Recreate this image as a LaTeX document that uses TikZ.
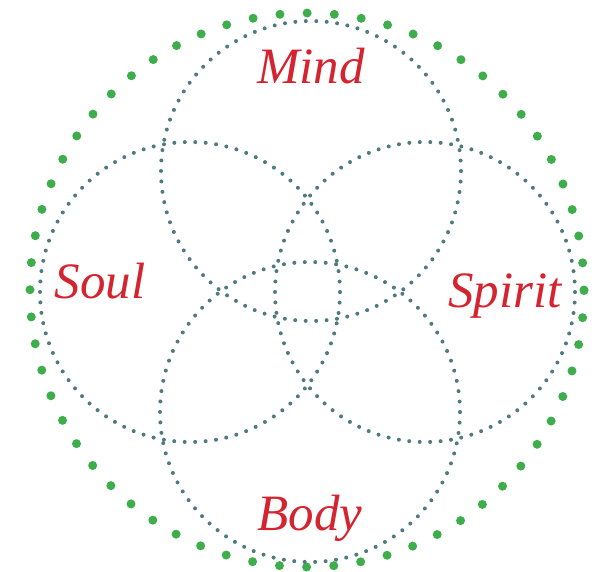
\documentclass[tikz,border=0pt]{standalone}
\usepackage{fontspec}
\setmainfont{Liberation Serif}
\definecolor{lblred}{HTML}{D42430}
\definecolor{ringteal}{HTML}{4F7A80}
\definecolor{ringgreen}{HTML}{3DAE4B}
\tikzset{
  ring/.style={circle, draw=ringteal, line width=4pt, line cap=round,
    dash pattern=on 0pt off 10.472pt, minimum size=300pt, inner sep=0pt},
  outerring/.style={circle, draw=ringgreen, line width=9pt, line cap=round,
    dash pattern=on 0pt off 27.19pt, minimum size=554pt, inner sep=0pt},
  lbl/.style={text=lblred, font=\fontsize{51}{60}\selectfont\itshape, anchor=base, inner sep=0pt}
}
\begin{document}
\begin{tikzpicture}[x=1pt,y=-1pt]
\useasboundingbox (0,0) rectangle (600,571);
\node[outerring] (outer) at (307,290) {};
\node[ring] (mind) at (311,171) {};
\node[ring] (soul) at (190,292) {};
\node[ring] (spirit) at (425,292) {};
\node[ring] (body) at (310,412) {};
\node[lbl] (tmind) at (311,83) {Mind};
\node[lbl] (tsoul) at (100,298) {Soul};
\node[lbl] (tspirit) at (505,307) {Spirit};
\node[lbl] (tbody) at (310,530) {Body};
\end{tikzpicture}
\end{document}
